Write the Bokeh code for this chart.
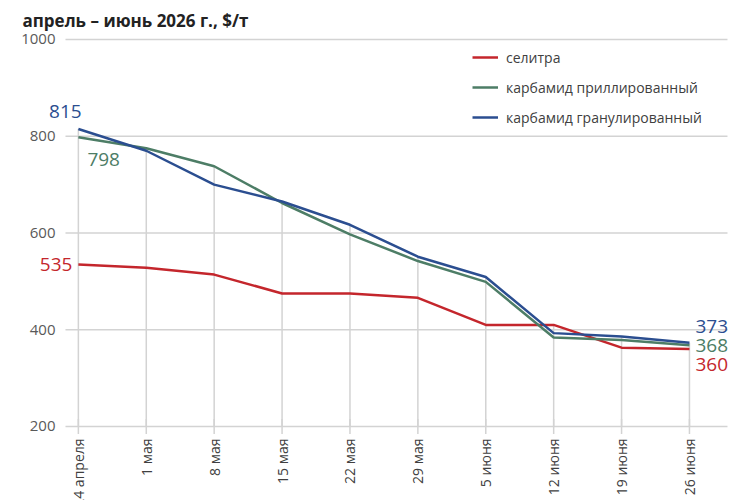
import numpy as np
from bokeh.plotting import figure
from bokeh.models import Range1d, Label, Legend, LegendItem
from bokeh.embed import file_html
from bokeh.resources import INLINE

# Weekly prices, $/t
dates = ["24 апреля", "1 мая", "8 мая", "15 мая", "22 мая",
         "29 мая", "5 июня", "12 июня", "19 июня", "26 июня"]
selitra = [535, 528, 514, 475, 475, 466, 410, 410, 363, 360]
carbamide_prilled = [798, 775, 738, 662, 597, 542, 499, 384, 379, 368]
carbamide_granular = [815, 770, 700, 665, 617, 551, 509, 393, 386, 373]

series_names = ["селитра", "карбамид приллированный", "карбамид гранулированный"]
y_ticks = [200, 400, 600, 800, 1000]
title_text = "апрель – июнь 2026 г., $/т"

FONT = "Open Sans"
RED = "#c4262c"
GREEN = "#4d7d66"
BLUE = "#2b4e90"
GRID = "#d3d3d3"

idx = list(range(len(dates)))
n = len(dates)

# horizontal extent of the gridded area, in week units
GRID_LEFT, GRID_RIGHT = -0.19, 9.56

# the frame covers the whole canvas so that labels outside the
# gridded area are not clipped
p = figure(width=750, height=500, output_backend="svg", toolbar_location=None,
           x_range=Range1d(-1.147, 9.899), y_range=Range1d(47.0, 1080.6),
           x_axis_location=None, y_axis_location=None,
           min_border_left=0, min_border_right=0,
           min_border_top=0, min_border_bottom=0)
p.outline_line_color = None
p.background_fill_color = "white"
p.border_fill_color = "white"
p.grid.visible = False

p.add_layout(Label(x=22, y=480, x_units="screen", y_units="screen",
                   text=title_text, text_align="left",
                   text_baseline="alphabetic",
                   text_font=FONT, text_font_size="17px",
                   text_font_style="bold", text_color="#222222"))

# horizontal grid and its labels
p.segment(x0=[GRID_LEFT] * len(y_ticks), y0=y_ticks,
          x1=[GRID_RIGHT] * len(y_ticks), y1=y_ticks,
          line_color=GRID, line_width=1.5)
p.text(x=[GRID_LEFT] * len(y_ticks), y=y_ticks, text=[str(t) for t in y_ticks],
       x_offset=-10, text_align="right", text_baseline="middle",
       text_font={"value": FONT}, text_font_size="15px", text_color="#595959")

# drop lines from the highest price of each week down to the baseline
tops = [max(a, b, c) for a, b, c in zip(selitra, carbamide_prilled, carbamide_granular)]
base = [y_ticks[0]] * n
p.segment(x0=idx, y0=tops, x1=idx, y1=base, line_color=GRID, line_width=1.5)
p.scatter(idx, base, marker="dash", angle=np.pi / 2, size=15,
          line_color=GRID, line_width=1.5)

# week labels under the baseline, rotated
p.text(x=idx, y=base, text=dates, angle=np.pi / 2, y_offset=12,
       text_align="right", text_baseline="middle",
       text_font={"value": FONT}, text_font_size="14px", text_color="#404040")

r_sel = p.line(idx, selitra, line_color=RED, line_width=2.5)
r_pri = p.line(idx, carbamide_prilled, line_color=GREEN, line_width=2.5)
r_gra = p.line(idx, carbamide_granular, line_color=BLUE, line_width=2.5)

legend = Legend(items=[LegendItem(label=series_names[0], renderers=[r_sel]),
                       LegendItem(label=series_names[1], renderers=[r_pri]),
                       LegendItem(label=series_names[2], renderers=[r_gra])],
                location=(472, 373), border_line_color=None,
                background_fill_alpha=0, padding=0, margin=0,
                glyph_width=26, glyph_height=20, label_height=20,
                spacing=10, label_standoff=8,
                label_text_font=FONT, label_text_font_size="14px",
                label_text_color="#404040")
p.add_layout(legend)

# first and last values
first, last = idx[0], idx[-1]
value_labels = [
    (first, carbamide_granular[0], BLUE, "center", "bottom", -13, 11),
    (first, carbamide_prilled[0], GREEN, "left", "top", 9, -16),
    (first, selitra[0], RED, "right", "middle", -6, 0),
    (last, carbamide_granular[-1], BLUE, "left", "middle", 6, 16),
    (last, carbamide_prilled[-1], GREEN, "left", "middle", 6, 0),
    (last, selitra[-1], RED, "left", "middle", 6, -15),
]
for x, y, c, align, baseline, xo, yo in value_labels:
    p.add_layout(Label(x=x, y=y, text=str(y), text_color=c,
                       text_align=align, text_baseline=baseline,
                       x_offset=xo, y_offset=yo,
                       text_font=FONT, text_font_size="19px"))

open("out.html", "w").write(file_html(p, INLINE))
